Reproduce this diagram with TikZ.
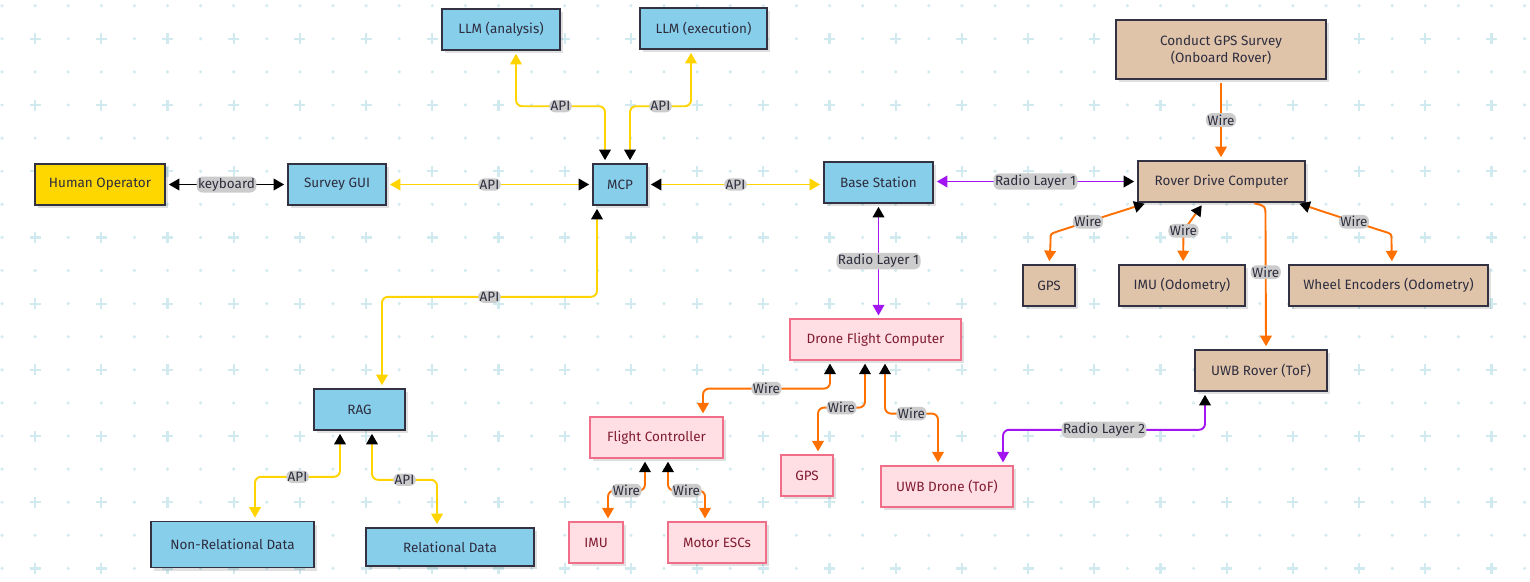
\documentclass[tikz,border=0pt]{standalone}
\usepackage{fontspec}
\setmainfont{Fira Sans}
\usetikzlibrary{arrows.meta,shadows,calc}
\definecolor{gridc}{RGB}{208,234,240}
\definecolor{skyb}{RGB}{135,206,235}
\definecolor{goldf}{RGB}{255,215,0}
\definecolor{tanf}{RGB}{224,196,170}
\definecolor{pinkf}{RGB}{255,222,228}
\definecolor{pinkd}{RGB}{240,110,135}
\definecolor{pinkt}{RGB}{128,28,48}
\definecolor{nborder}{RGB}{50,50,66}
\definecolor{txt}{RGB}{45,45,62}
\definecolor{lblg}{RGB}{204,204,204}
\definecolor{yel}{RGB}{255,212,0}
\definecolor{purp}{RGB}{162,20,240}
\definecolor{oran}{RGB}{255,112,0}
\begin{document}
\begin{tikzpicture}[x=1pt,y=-1pt,
  box/.style={draw=nborder, line width=1.6pt, text=txt, inner sep=0pt,
    font=\fontsize{13.5}{17}\selectfont, align=center,
    drop shadow={shadow xshift=3pt, shadow yshift=-3pt, opacity=0.12, fill=black}},
  bluebox/.style={box, fill=skyb},
  goldbox/.style={box, fill=goldf},
  tanbox/.style={box, fill=tanf},
  pinkbox/.style={box, fill=pinkf, draw=pinkd, line width=1.2pt, text=pinkt},
  lbl/.style={fill=lblg, text=txt, inner sep=1.5pt, font=\fontsize{13.5}{15}\selectfont},
  edge/.style={line width=1.9pt, rounded corners=6pt, shorten <=3pt, shorten >=3pt},
  tipB/.style={edge, {Triangle[length=10.5pt,width=11.5pt,color=black]}-{Triangle[length=10.5pt,width=11.5pt]}},
  tipS/.style={edge, -{Triangle[length=10.5pt,width=11.5pt]}},
  both/.style={edge, draw=black, {Triangle[length=10.5pt,width=11.5pt]}-{Triangle[length=10.5pt,width=11.5pt]}},
  api/.style={tipB, draw=yel},
  radio/.style={tipB, draw=purp},
  wire/.style={tipB, draw=oran},
  wireS/.style={tipS, draw=oran}
]
\useasboundingbox (0,0) rectangle (1530,581);
\fill[white] (0,0) rectangle (1530,581);
% background grid
\foreach \i in {0,...,46} {
  \foreach \j in {0,...,17} {
    \fill[gridc] ({2+33.1*\i},{5.7+33.1*\j}) circle (1.7pt);
  }
}
\foreach \i in {1,3,...,45} {
  \foreach \j in {1,3,...,17} {
    \draw[gridc, line width=2.2pt] ({2+33.1*\i-5.5},{5.7+33.1*\j}) -- ({2+33.1*\i+5.5},{5.7+33.1*\j})
      ({2+33.1*\i},{5.7+33.1*\j-5.5}) -- ({2+33.1*\i},{5.7+33.1*\j+5.5});
  }
}
% nodes
\node[goldbox, minimum width=130, minimum height=41] (human) at (100,184.5) {Human Operator};
\node[bluebox, minimum width=98, minimum height=41] (gui) at (337,184.5) {Survey GUI};
\node[bluebox, minimum width=118, minimum height=41] (llma) at (501,29.5) {LLM (analysis)};
\node[bluebox, minimum width=127, minimum height=41] (llme) at (703.5,28.5) {LLM (execution)};
\node[bluebox, minimum width=54, minimum height=41] (mcp) at (620,184.5) {MCP};
\node[bluebox, minimum width=109, minimum height=41] (base) at (878.5,182.5) {Base Station};
\node[tanbox, minimum width=210, minimum height=59] (cgps) at (1221,49.5) {Conduct GPS Survey\\(Onboard Rover)};
\node[tanbox, minimum width=167, minimum height=41] (rover) at (1221.5,181.5) {Rover Drive Computer};
\node[tanbox, minimum width=52, minimum height=41] (gpsr) at (1049,285.5) {GPS};
\node[tanbox, minimum width=126, minimum height=41] (imur) at (1182,285.5) {IMU (Odometry)};
\node[tanbox, minimum width=199, minimum height=41] (wheel) at (1388.5,285.5) {Wheel Encoders (Odometry)};
\node[tanbox, minimum width=132, minimum height=41] (uwbr) at (1261,370.5) {UWB Rover (ToF)};
\node[pinkbox, minimum width=171, minimum height=41] (drone) at (875.5,339.5) {Drone Flight Computer};
\node[pinkbox, minimum width=133, minimum height=41] (fc) at (656.5,437.5) {Flight Controller};
\node[pinkbox, minimum width=52, minimum height=41] (gpsd) at (807,475.5) {GPS};
\node[pinkbox, minimum width=132, minimum height=41] (uwbd) at (947,486.5) {UWB Drone (ToF)};
\node[pinkbox, minimum width=54, minimum height=41] (imud) at (596,542.5) {IMU};
\node[pinkbox, minimum width=98, minimum height=41] (esc) at (717,542.5) {Motor ESCs};
\node[bluebox, minimum width=91, minimum height=41] (rag) at (359.5,409.5) {RAG};
\node[bluebox, minimum width=163, minimum height=46] (nonrel) at (232.5,544.5) {Non-Relational Data};
\node[bluebox, minimum width=168, minimum height=38] (rel) at (450,547) {Relational Data};
% connectors
\draw[both] (human.east) -- node[lbl]{keyboard} (gui.west);
\draw[api] (mcp.west) -- node[lbl]{API} (gui.east);
\draw[api] (mcp.east) -- node[lbl]{API} (mcp.east -| base.west);
\draw[api] ([xshift=-15pt]mcp.north) -- ++(0,-57) -- node[lbl]{API} ++(-89,0) -- ([xshift=15pt]llma.south);
\draw[api] ([xshift=10pt]mcp.north) -- ++(0,-57) -- node[lbl]{API} ++(61,0) -- ([xshift=-12.5pt]llme.south);
\draw[api] ([xshift=-23pt]mcp.south) -- ++(0,91) -- node[lbl]{API} ++(-215,0) -- ([xshift=22.5pt]rag.north);
\draw[api] ([xshift=-19.5pt]rag.south) -- ++(0,46) -- node[lbl]{API} ++(-85,0) -- ([xshift=22.5pt]nonrel.north);
\draw[api] ([xshift=12.5pt]rag.south) -- ++(0,49) -- node[lbl]{API} ++(65,0) -- ([xshift=-13pt]rel.north);
\draw[radio] (rover.west) -- node[lbl]{Radio Layer 1} (rover.west -| base.east);
\draw[radio] (base.south) -- node[lbl]{Radio Layer 1} (base.south |- drone.north);
\draw[wireS] (cgps.south) -- node[lbl]{Wire} (cgps.south |- rover.north);
\draw[wire] ([xshift=-74pt]rover.south) -- node[lbl,pos=0.7]{Wire} ++(-85,27) .. controls ++(-12,4) .. ++(-12,16) -- (gpsr.north);
\draw[wire] ([xshift=-18pt]rover.south) -- ++(-20,28) node[lbl]{Wire} -- ([xshift=1pt]imur.north);
\draw[wire] ([xshift=75pt]rover.south) -- node[lbl,pos=0.7]{Wire} ++(82,27) .. controls ++(13,4) .. ++(13,16) -- ([xshift=3.5pt]wheel.north);
\draw[wireS] ([xshift=30pt]rover.south) .. controls ++(14,3) .. ++(14,20) -- node[lbl,pos=0.39]{Wire} ([xshift=5pt]uwbr.north);
\draw[radio] ([xshift=-56pt]uwbr.south) -- ++(0,38) -- node[lbl]{Radio Layer 2} ++(-202,0) -- ([xshift=56pt]uwbd.north);
\draw[wire] ([xshift=-45.5pt]drone.south) -- ++(0,28) -- node[lbl]{Wire} ++(-127,0) -- ([xshift=46.5pt]fc.north);
\draw[wire] ([xshift=-10.5pt]drone.south) -- ++(0,47) -- node[lbl]{Wire} ++(-47,0) -- ([xshift=11pt]gpsd.north);
\draw[wire] ([xshift=9.5pt]drone.south) -- ++(0,53) -- node[lbl]{Wire} ++(53,0) -- ([xshift=-9pt]uwbd.north);
\draw[wire] ([xshift=-11.5pt]fc.south) -- ++(0,32) -- node[lbl]{Wire} ++(-37,0) -- ([xshift=12pt]imud.north);
\draw[wire] ([xshift=11.5pt]fc.south) -- ++(0,32) -- node[lbl]{Wire} ++(37,0) -- ([xshift=-12pt]esc.north);
\end{tikzpicture}
\end{document}
